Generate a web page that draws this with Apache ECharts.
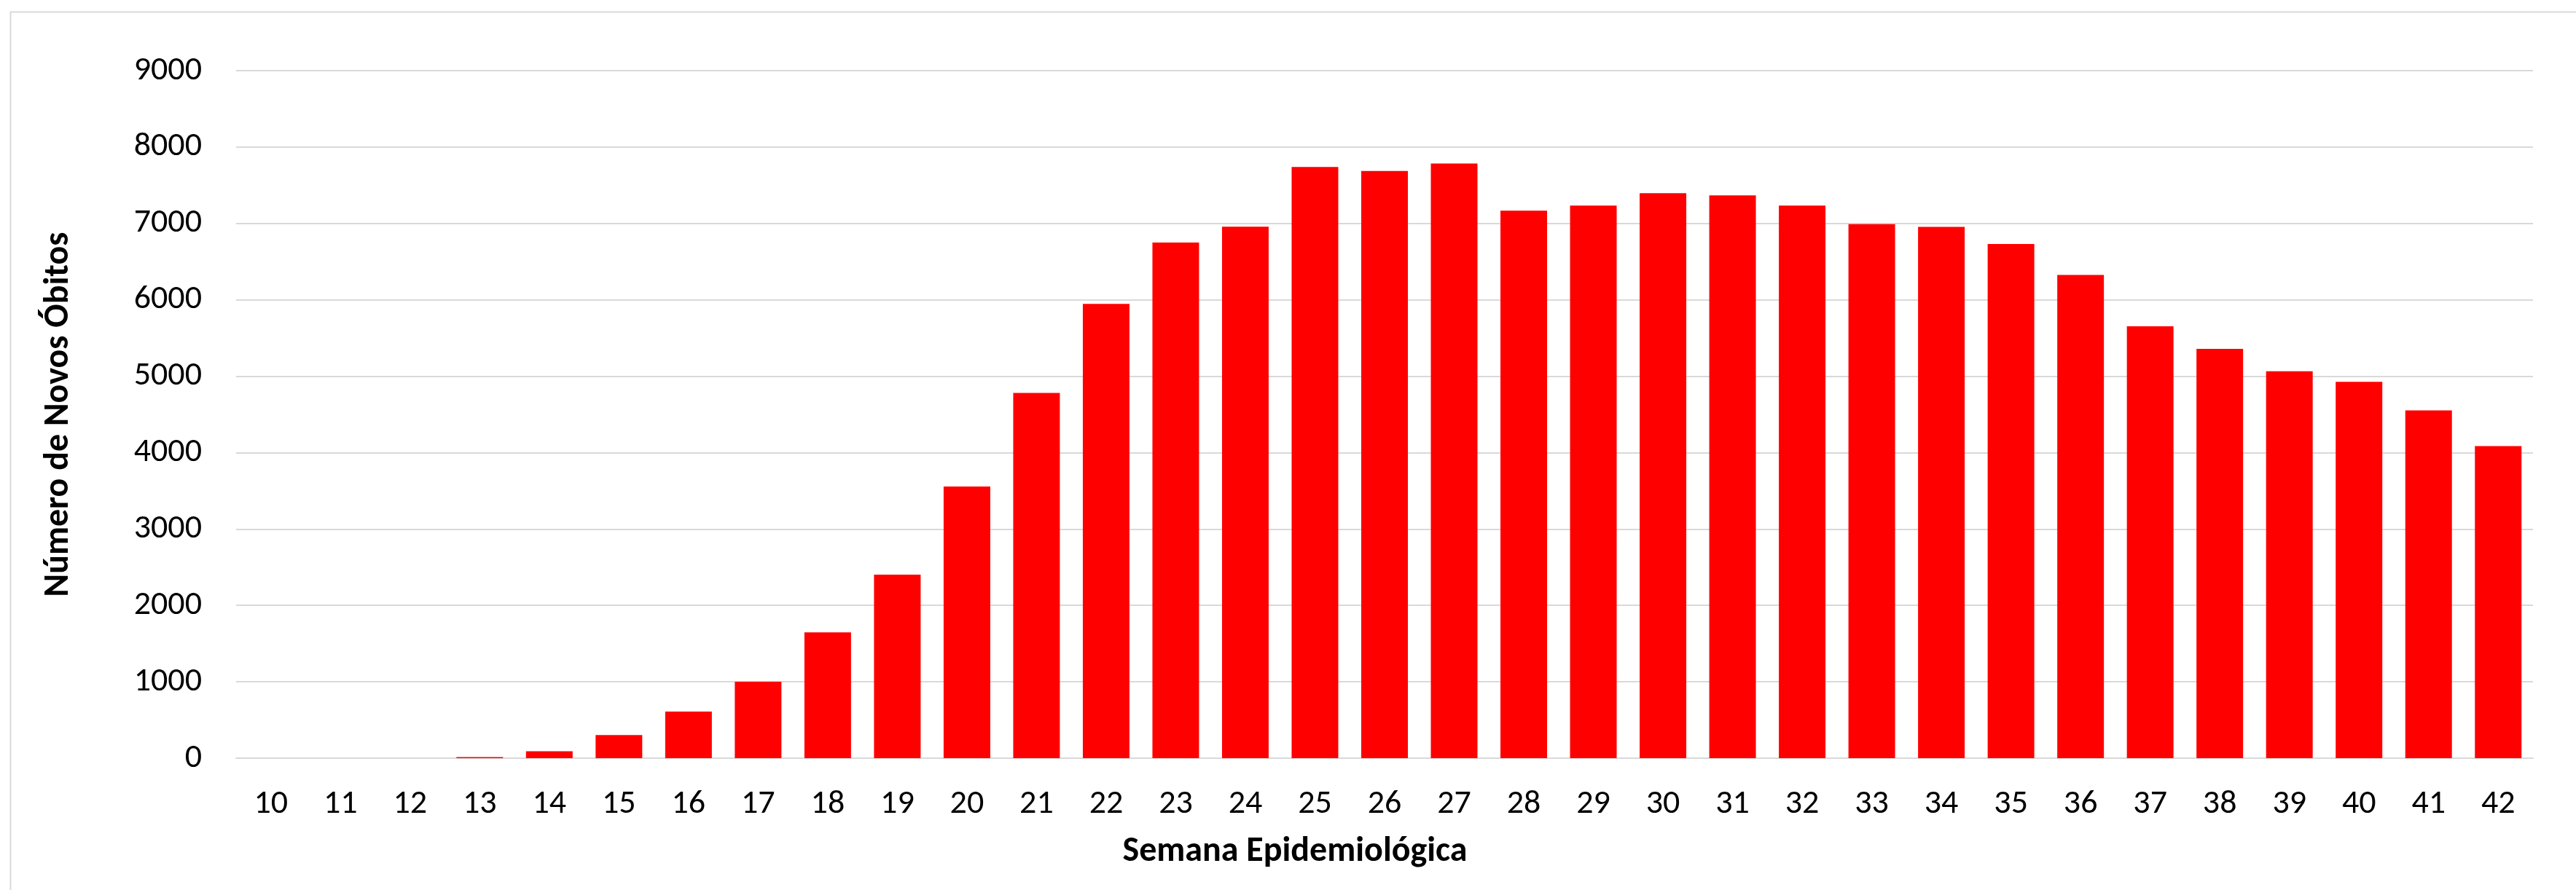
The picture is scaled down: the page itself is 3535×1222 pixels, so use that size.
<!DOCTYPE html>
<html>
<head>
<meta charset="utf-8">
<script src="https://cdn.jsdelivr.net/npm/echarts@6/dist/echarts.min.js"></script>
<style>
html,body{margin:0;padding:0;background:#fff;}
#chart{width:3535px;height:1222px;}
</style>
</head>
<body>
<div id="chart"></div>
<script>
const weeks = ['10','11','12','13','14','15','16','17','18','19','20','21','22','23','24','25','26','27','28','29','30','31','32','33','34','35','36','37','38','39','40','41','42'];
const newDeaths = [0,0,1,15,90,303,609,1000,1646,2403,3557,4782,5947,6751,6958,7740,7686,7784,7168,7235,7397,7368,7234,6990,6956,6730,6325,5653,5357,5065,4926,4553,4086];
const yTicks = {min:0, max:9000, interval:1000};
const yTitle = 'Número de Novos Óbitos';
const xTitle = 'Semana Epidemiológica';

const FONT = "Carlito, Calibri, 'Open Sans', sans-serif";
const chart = echarts.init(document.getElementById('chart'), null, {renderer:'canvas'});
chart.setOption({
  animation:false,
  backgroundColor:'#ffffff',
  grid:{left:324, right:59, top:97, bottom:181, outerBoundsMode:'none'},
  graphic:[{
    type:'rect', left:12, top:14, silent:true,
    shape:{x:0,y:0,width:3600,height:1300},
    style:{fill:'none', stroke:'#d9d9d9', lineWidth:2}
  }],
  xAxis:{
    type:'category', data:weeks,
    axisLine:{show:true, lineStyle:{color:'#d9d9d9', width:2}},
    axisTick:{show:false},
    axisLabel:{color:'#000', fontFamily:FONT, fontSize:46, margin:40, lineHeight:46},
    name:xTitle, nameLocation:'middle', nameGap:105,
    nameTextStyle:{color:'#000', fontFamily:FONT, fontSize:48, fontWeight:'bold', padding:[0,246,0,0], lineHeight:48}
  },
  yAxis:{
    type:'value', min:yTicks.min, max:yTicks.max, interval:yTicks.interval,
    axisLine:{show:false}, axisTick:{show:false},
    splitLine:{lineStyle:{color:'#d9d9d9', width:2}},
    axisLabel:{color:'#000', fontFamily:FONT, fontSize:46, margin:47, formatter:function(v){return String(v);}},
    name:yTitle, nameLocation:'middle', nameGap:219,
    nameTextStyle:{color:'#000', fontFamily:FONT, fontSize:48, fontWeight:'bold', lineHeight:48}
  },
  series:[{
    type:'bar', data:newDeaths, barCategoryGap:'33%',
    itemStyle:{color:'#ff0000'}
  }]
});
</script>
</body>
</html>
